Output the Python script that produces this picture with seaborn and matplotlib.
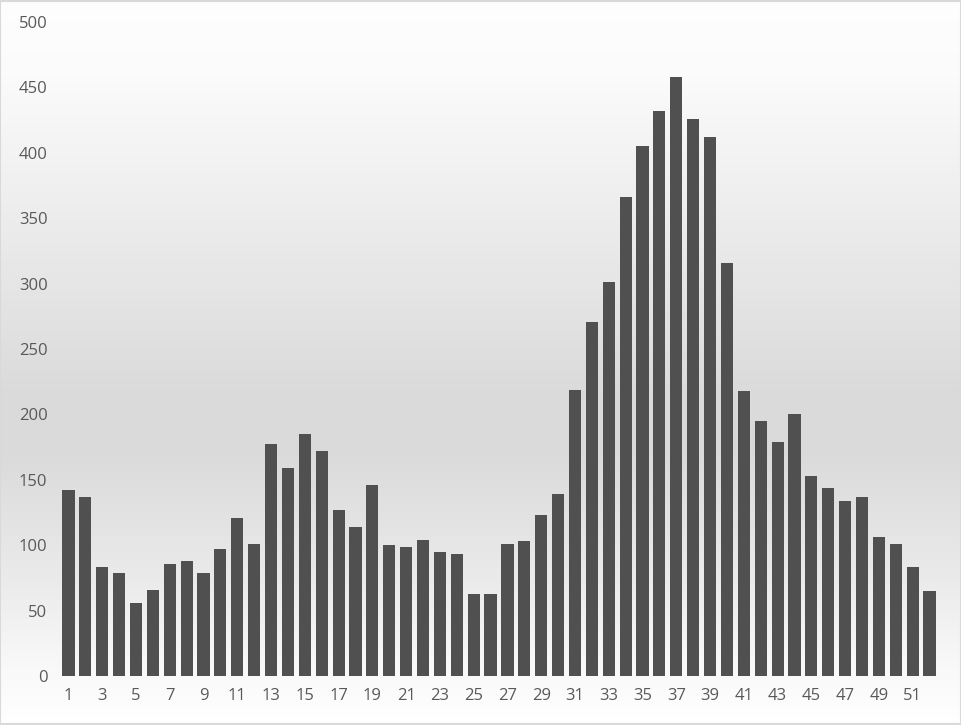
import numpy as np
import pandas as pd
import seaborn as sns
import matplotlib.pyplot as plt

# weekly counts
weeks = list(range(1, 53))
values = [142, 137, 83, 79, 56, 66, 86, 88, 79, 97, 121, 101, 177, 159, 185, 172,
          127, 114, 146, 100, 99, 104, 95, 93, 63, 63, 101, 103, 123, 139, 219, 271,
          301, 366, 405, 432, 458, 426, 412, 316, 218, 195, 179, 200, 153, 144, 134, 137,
          106, 101, 83, 65]
y_ticks = list(range(0, 501, 50))

df = pd.DataFrame({'week': weeks, 'value': values})

sns.set_theme(style='white')
plt.rcParams['font.family'] = ['Open Sans', 'DejaVu Sans']

fig = plt.figure(figsize=(9.61, 7.25), dpi=100)

# background gradient (white -> gray -> white), Excel style
bg = fig.add_axes([0, 0, 1, 1], zorder=-2)
stops_y = [0.0, 0.10, 0.55, 0.62, 0.80, 0.92, 1.0]
stops_c = [0.995, 0.985, 0.855, 0.855, 0.92, 0.975, 1.0]
yy = np.linspace(0, 1, 400)
shade = np.interp(yy, stops_y, stops_c)
grad = np.repeat(shade[:, None], 10, axis=1)
bg.imshow(np.dstack([grad, grad, grad]), aspect='auto', extent=[0, 1, 1, 0])
bg.set_xlim(0, 1)
bg.set_ylim(1, 0)
bg.axis('off')
bg.add_patch(plt.Rectangle((0.0005, 0.0007), 0.999, 0.9986, fill=False,
                           edgecolor='#d9d9d9', linewidth=1.5))

ax = fig.add_axes([60 / 961, 49 / 725, 878 / 961, 654 / 725])
ax.set_facecolor('none')
sns.barplot(data=df, x='week', y='value', color='#505050', width=0.72,
            saturation=1, linewidth=0, ax=ax)

ax.set_ylim(0, 500)
ax.set_xlim(-0.5, len(weeks) - 0.5)
ax.set_yticks(y_ticks)
ax.set_yticklabels([str(t) for t in y_ticks])
ax.set_xticks(range(0, len(weeks), 2))
ax.set_xticklabels([str(w) for w in weeks[::2]])
ax.tick_params(axis='both', length=0, labelsize=12, colors='#595959')
ax.tick_params(axis='y', pad=9)
ax.tick_params(axis='x', pad=9)
ax.set_xlabel('')
ax.set_ylabel('')
for s in ax.spines.values():
    s.set_visible(False)

fig.savefig('out.png', dpi=100)
